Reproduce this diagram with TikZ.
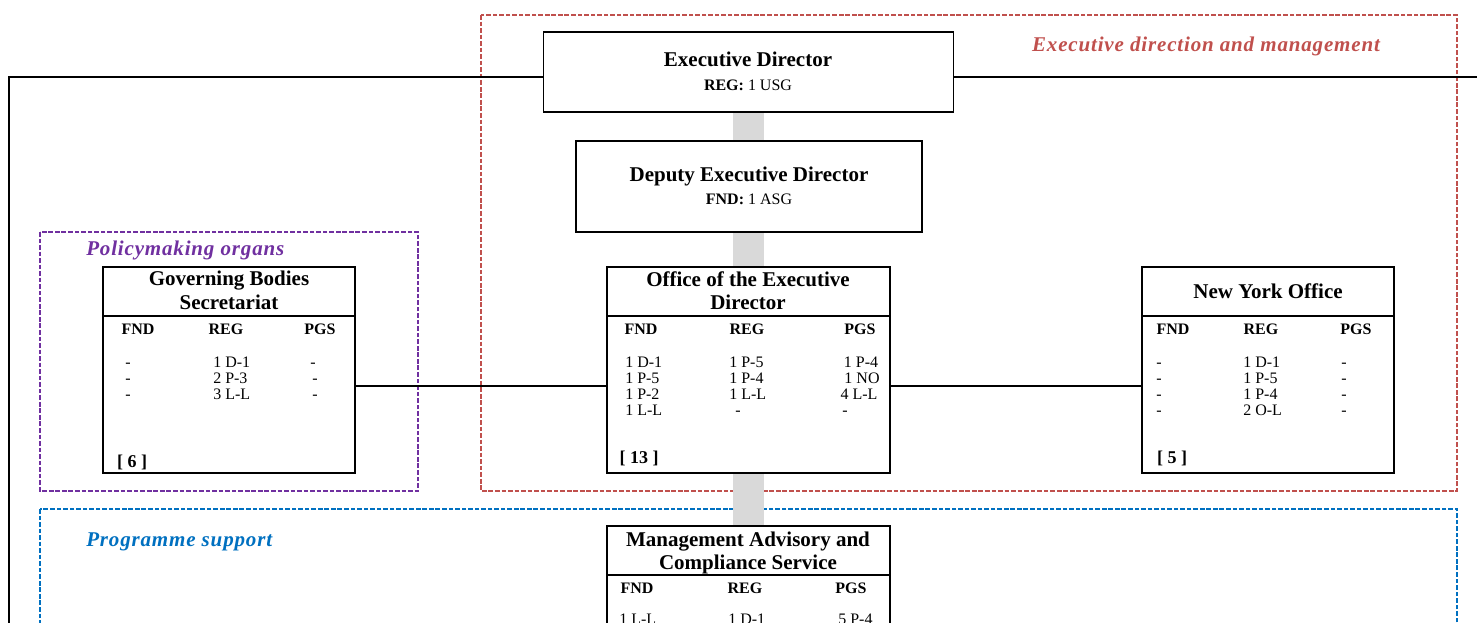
\documentclass[tikz,border=0pt]{standalone}
\usepackage{fontspec}
\setmainfont{Liberation Serif}
\definecolor{grpred}{RGB}{192,80,77}
\definecolor{grppurple}{RGB}{112,48,160}
\definecolor{grpblue}{RGB}{0,112,192}
\definecolor{barg}{RGB}{217,217,217}
\tikzset{
  orgbox/.style={draw=black, line width=1.3pt, fill=white, rectangle, inner sep=0pt},
  grp/.style={line width=1.5pt, dash pattern=on 3.5pt off 1.4pt},
  ttl/.style={inner sep=0pt, yshift=-2.8pt, text height=0.68em, text depth=0.2em, font=\fontsize{15.75}{18}\selectfont\bfseries},
  sub/.style={inner sep=0pt, yshift=-1.8pt, text height=0.68em, text depth=0.2em, font=\fontsize{12}{14}\selectfont},
  hdr/.style={inner sep=0pt, yshift=-1.8pt, text height=0.68em, text depth=0.2em, font=\fontsize{12}{14}\selectfont\bfseries},
  dat/.style={inner sep=0pt, yshift=-1.8pt, text height=0.68em, text depth=0.2em, font=\fontsize{12}{14}\selectfont},
  dl/.style={dat, anchor=west},
  tot/.style={inner sep=0pt, yshift=-2pt, text height=0.68em, text depth=0.2em, font=\fontsize{13.5}{16}\selectfont\bfseries},
  glab/.style={inner sep=0pt, yshift=-2.5pt, text height=0.68em, text depth=0.2em, font=\fontsize{15.75}{18}\selectfont\bfseries\itshape\addfontfeatures{LetterSpace=4}},
  conn/.style={line width=1.1pt, black}
}
\begin{document}
\begin{tikzpicture}[x=0.75pt, y=-0.75pt]
\useasboundingbox (0,0) rectangle (1477,623);
\clip (0,0) rectangle (1477,623);
% group frames
\draw[grp, grpred] (481,15) rectangle (1457,491);
\draw[grp, grppurple] (40,232) rectangle (418,491);
\draw[grp, grpblue] (40,509) rectangle (1457,700);
% group labels
\node[glab, text=grpred] (lab1) at (1206,45) {Executive direction and management};
\node[glab, text=grppurple, anchor=west] (lab2) at (86,249) {Policymaking organs};
\node[glab, text=grpblue, anchor=west] (lab3) at (86,540) {Programme support};
% grey spine
\fill[barg] (733,111) rectangle (764,700);
% boxes
\node[orgbox, minimum width=307.5pt, minimum height=60pt] (ED) at (748.5,72) {};
\node[orgbox, minimum width=259.5pt, minimum height=68.25pt] (DED) at (749,186.5) {};
\node[orgbox, minimum width=189pt, minimum height=154.5pt] (GBS) at (229,370) {};
\node[orgbox, minimum width=212.25pt, minimum height=154.5pt] (OED) at (748.5,370) {};
\node[orgbox, minimum width=189pt, minimum height=154.5pt] (NYO) at (1268,370) {};
\node[orgbox, minimum width=212.25pt, minimum height=145.5pt] (MACS) at (748.5,623) {};
% dividers
\draw[line width=1.3pt] (GBS.west |- 0,316) -- (GBS.east |- 0,316);
\draw[line width=1.3pt] (OED.west |- 0,316) -- (OED.east |- 0,316);
\draw[line width=1.3pt] (NYO.west |- 0,316) -- (NYO.east |- 0,316);
\draw[line width=1.3pt] (MACS.west |- 0,575) -- (MACS.east |- 0,575);
% connectors
\coordinate (tl) at (9,77);
\coordinate (bl) at (9,700);
\coordinate (tr) at (1490,77);
\coordinate (hl) at (0,386);
\draw[conn] (ED.west |- tl) -- (tl) -- (bl);
\draw[conn] (ED.east |- tl) -- (tr);
\draw[conn] (GBS.east |- hl) -- (OED.west |- hl);
\draw[conn] (OED.east |- hl) -- (NYO.west |- hl);
% ED
\node[ttl] (edt) at (748,60) {Executive Director};
\node[sub] (eds) at (748,85) {\textbf{REG:} 1 USG};
% DED
\node[ttl] (dedt) at (749,175) {Deputy Executive Director};
\node[sub] (deds) at (749,199) {\textbf{FND:} 1 ASG};
% GBS
\node[ttl] (g1) at (229,279) {Governing Bodies};
\node[ttl] (g2) at (229,303) {Secretariat};
\node[hdr] (gh1) at (138,329) {FND};
\node[hdr] (gh2) at (226,329) {REG};
\node[hdr] (gh3) at (320,329) {PGS};
\node[dat] (ga1) at (128,362) {-};
\node[dat] (ga2) at (128,378) {-};
\node[dat] (ga3) at (128,394) {-};
\node[dl] (gb1) at (213,362) {1 D-1};
\node[dl] (gb2) at (213,378) {2 P-3};
\node[dl] (gb3) at (213,394) {3 L-L};
\node[dat] (gc1) at (313,362) {-};
\node[dat] (gc2) at (315,378) {-};
\node[dat] (gc3) at (315,394) {-};
\node[tot] (gt) at (132,462) {[ 6 ]};
% OED
\node[ttl] (o1) at (748,280) {Office of the Executive};
\node[ttl] (o2) at (748,303) {Director};
\node[hdr] (oh1) at (641,329) {FND};
\node[hdr] (oh2) at (747,329) {REG};
\node[hdr] (oh3) at (860,329) {PGS};
\node[dl] (oa1) at (625,362) {1 D-1};
\node[dl] (oa2) at (625,378) {1 P-5};
\node[dl] (oa3) at (625,394) {1 P-2};
\node[dl] (oa4) at (625,410) {1 L-L};
\node[dl] (ob1) at (729,362) {1 P-5};
\node[dl] (ob2) at (729,378) {1 P-4};
\node[dl] (ob3) at (729,394) {1 L-L};
\node[dat] (ob4) at (738,410) {-};
\node[dat] (oc1) at (861,362) {1 P-4};
\node[dat] (oc2) at (862,378) {1 NO};
\node[dat] (oc3) at (859,394) {4 L-L};
\node[dat] (oc4) at (845,410) {-};
\node[tot] (ot) at (639,458) {[ 13 ]};
% NYO
\node[ttl] (n1) at (1268,292) {New York Office};
\node[hdr] (nh1) at (1173,329) {FND};
\node[hdr] (nh2) at (1261,329) {REG};
\node[hdr] (nh3) at (1356,329) {PGS};
\node[dat] (na1) at (1159,362) {-};
\node[dat] (na2) at (1159,378) {-};
\node[dat] (na3) at (1159,394) {-};
\node[dat] (na4) at (1159,410) {-};
\node[dl] (nb1) at (1243,362) {1 D-1};
\node[dl] (nb2) at (1243,378) {1 P-5};
\node[dl] (nb3) at (1243,394) {1 P-4};
\node[dl] (nb4) at (1243,410) {2 O-L};
\node[dat] (nc1) at (1344,362) {-};
\node[dat] (nc2) at (1344,378) {-};
\node[dat] (nc3) at (1344,394) {-};
\node[dat] (nc4) at (1344,410) {-};
\node[tot] (nt) at (1172,458) {[ 5 ]};
% MACS
\node[ttl] (m1) at (748,540) {Management Advisory and};
\node[ttl] (m2) at (748,563) {Compliance Service};
\node[hdr] (mh1) at (637,588) {FND};
\node[hdr] (mh2) at (745,588) {REG};
\node[hdr] (mh3) at (851,588) {PGS};
\node[dl] (ma1) at (619,619) {1 L-L};
\node[dl] (mb1) at (728,619) {1 D-1};
\node[dl] (mc1) at (838,619) {5 P-4};
\end{tikzpicture}
\end{document}
